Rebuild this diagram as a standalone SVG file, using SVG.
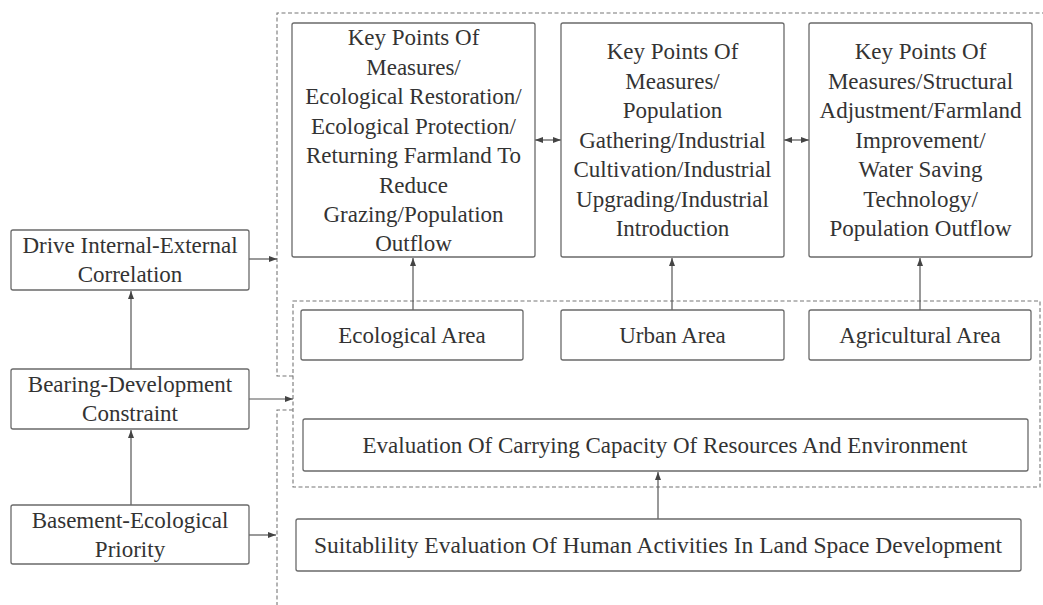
<svg xmlns="http://www.w3.org/2000/svg" width="1043" height="605" viewBox="0 0 1043 605">
<defs>
<marker id="ah" viewBox="0 0 8 6" refX="8" refY="3" markerWidth="8" markerHeight="6" markerUnits="userSpaceOnUse" orient="auto-start-reverse">
<path d="M0,0 L8,3 L0,6 Z" fill="#444"/>
</marker>
<style>
.box{fill:#fff;stroke:#6a6a6a;stroke-width:1.3}
.t{font-family:"Liberation Serif","Times New Roman",serif;font-size:23px;fill:#333;text-anchor:middle}
.c{fill:none;stroke:#555;stroke-width:1.2}
.d{fill:none;stroke:#777;stroke-width:1.1;stroke-dasharray:4 2.5}
</style>
</defs>
<rect width="1043" height="605" fill="#fff"/>
<g id="frames">
<path class="d" d="M293,376 H277 V13 H1043"/>
<rect class="d" x="293" y="301" width="747" height="186"/>
<path class="d" d="M293,410 H277 V605"/>
</g>
<g id="connectors">
<line class="c" x1="535" y1="140" x2="561" y2="140" marker-start="url(#ah)" marker-end="url(#ah)"/>
<line class="c" x1="784" y1="140" x2="809" y2="140" marker-start="url(#ah)" marker-end="url(#ah)"/>
<line class="c" x1="413" y1="310" x2="413" y2="258" marker-end="url(#ah)"/>
<line class="c" x1="672" y1="310" x2="672" y2="258" marker-end="url(#ah)"/>
<line class="c" x1="920" y1="310" x2="920" y2="258" marker-end="url(#ah)"/>
<line class="c" x1="658" y1="519" x2="658" y2="472" marker-end="url(#ah)"/>
<line class="c" x1="131" y1="369" x2="131" y2="291" marker-end="url(#ah)"/>
<line class="c" x1="131" y1="505" x2="131" y2="430" marker-end="url(#ah)"/>
<line class="c" x1="249" y1="259" x2="277" y2="259" marker-end="url(#ah)"/>
<line class="c" x1="249" y1="399" x2="293" y2="399" marker-end="url(#ah)"/>
<line class="c" x1="249" y1="535" x2="276" y2="535" marker-end="url(#ah)"/>
</g>
<g id="kp-eco">
<rect class="box" x="292" y="23" width="243" height="234" rx="2"/>
<text class="t"><tspan x="413.5" y="45">Key Points Of</tspan><tspan x="413.5" y="74.6">Measures/</tspan><tspan x="413.5" y="104">Ecological Restoration/</tspan><tspan x="413.5" y="134">Ecological Protection/</tspan><tspan x="413.5" y="163">Returning Farmland To</tspan><tspan x="413.5" y="193">Reduce</tspan><tspan x="413.5" y="222">Grazing/Population</tspan><tspan x="413.5" y="251">Outflow</tspan></text>
</g>
<g id="kp-urban">
<rect class="box" x="561" y="23" width="223" height="234" rx="2"/>
<text class="t"><tspan x="672.5" y="59">Key Points Of</tspan><tspan x="672.5" y="89">Measures/</tspan><tspan x="672.5" y="118">Population</tspan><tspan x="672.5" y="148">Gathering/Industrial</tspan><tspan x="672.5" y="177">Cultivation/Industrial</tspan><tspan x="672.5" y="207">Upgrading/Industrial</tspan><tspan x="672.5" y="236">Introduction</tspan></text>
</g>
<g id="kp-agri">
<rect class="box" x="809" y="23" width="223" height="234" rx="2"/>
<text class="t"><tspan x="920.5" y="59">Key Points Of</tspan><tspan x="920.5" y="89">Measures/Structural</tspan><tspan x="920.5" y="118">Adjustment/Farmland</tspan><tspan x="920.5" y="148">Improvement/</tspan><tspan x="920.5" y="177">Water Saving</tspan><tspan x="920.5" y="207">Technology/</tspan><tspan x="920.5" y="236">Population Outflow</tspan></text>
</g>
<g id="eco-area">
<rect class="box" x="301" y="310" width="222" height="50" rx="2"/>
<text class="t" x="412" y="343">Ecological Area</text>
</g>
<g id="urban-area">
<rect class="box" x="561" y="310" width="223" height="50" rx="2"/>
<text class="t" x="672.5" y="343">Urban Area</text>
</g>
<g id="agri-area">
<rect class="box" x="809" y="310" width="222" height="50" rx="2"/>
<text class="t" x="920" y="343">Agricultural Area</text>
</g>
<g id="evaluation">
<rect class="box" x="303" y="419" width="725" height="52" rx="2"/>
<text class="t" x="665" y="453">Evaluation Of Carrying Capacity Of Resources And Environment</text>
</g>
<g id="suitability">
<rect class="box" x="296" y="519" width="725" height="52" rx="2"/>
<text class="t" x="658" y="553" textLength="688" lengthAdjust="spacingAndGlyphs">Suitablility Evaluation Of Human Activities In Land Space Development</text>
</g>
<g id="drive">
<rect class="box" x="11" y="230" width="238" height="60" rx="2"/>
<text class="t"><tspan x="130" y="253">Drive Internal-External</tspan><tspan x="130" y="282">Correlation</tspan></text>
</g>
<g id="bearing">
<rect class="box" x="11" y="369" width="238" height="60" rx="2"/>
<text class="t"><tspan x="130" y="392">Bearing-Development</tspan><tspan x="130" y="421">Constraint</tspan></text>
</g>
<g id="basement">
<rect class="box" x="11" y="505" width="238" height="59" rx="2"/>
<text class="t"><tspan x="130" y="528">Basement-Ecological</tspan><tspan x="130" y="557">Priority</tspan></text>
</g>
</svg>
